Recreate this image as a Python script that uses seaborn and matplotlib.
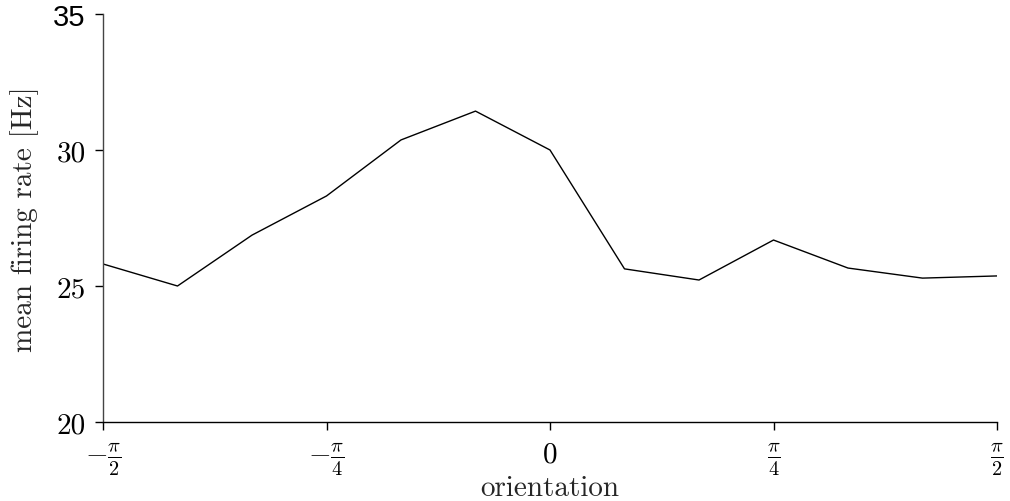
import numpy as np
import pandas as pd
import matplotlib
matplotlib.use("Agg")
import matplotlib.pyplot as plt
import seaborn as sns

# Tuning curve: mean firing rate per stimulus orientation
orientation_steps = [-6, -5, -4, -3, -2, -1, 0, 1, 2, 3, 4, 5, 6]  # multiples of pi/12
firing_rate = [25.81, 25.0, 26.87, 28.31, 30.37, 31.43, 30.0,
               25.63, 25.22, 26.69, 25.66, 25.29, 25.37]

x_ticks = [-np.pi / 2, -np.pi / 4, 0, np.pi / 4, np.pi / 2]
x_tick_labels = [r"$-\frac{\pi}{2}$", r"$-\frac{\pi}{4}$", r"$0$",
                 r"$\frac{\pi}{4}$", r"$\frac{\pi}{2}$"]
y_ticks = [20, 25, 30, 35]

df = pd.DataFrame({
    "orientation": np.array(orientation_steps) * np.pi / 12,
    "rate": firing_rate,
})

sns.set_theme(style="ticks")
plt.rcParams["font.family"] = ["cmr10"]
plt.rcParams["mathtext.fontset"] = "cm"
plt.rcParams["axes.formatter.use_mathtext"] = True

fig = plt.figure(figsize=(10.1, 5.02), dpi=100)
ax = fig.add_axes([103 / 1010, 1 - 423 / 502, 894 / 1010, 408 / 502])

sns.lineplot(data=df, x="orientation", y="rate", color="black",
             linewidth=1.0, ax=ax)

ax.set_xlim(-np.pi / 2, np.pi / 2)
ax.set_ylim(20, 35)
ax.set_xticks(x_ticks)
ax.set_xticklabels(x_tick_labels, fontsize=21)
ax.set_yticks(y_ticks)
ax.set_yticklabels([str(v) for v in y_ticks], fontsize=21)
ax.set_xlabel("orientation", fontsize=21, labelpad=-2)
ax.set_ylabel("mean firing rate [Hz]", fontsize=21, labelpad=10)

# top tick label set in a sans face
ax.get_yticklabels()[-1].set_fontfamily(["Liberation Sans"])

ax.tick_params(axis="x", direction="out", length=5.5, width=1,
               colors="black", pad=8)
ax.tick_params(axis="y", direction="out", length=5.5, width=1,
               colors="black", pad=7)
ax.spines["left"].set_linewidth(1.0)
ax.spines["left"].set_color("#444444")
ax.spines["bottom"].set_linewidth(1.0)
ax.spines["bottom"].set_color("black")
sns.despine(ax=ax)

fig.savefig("out.png", dpi=100)
